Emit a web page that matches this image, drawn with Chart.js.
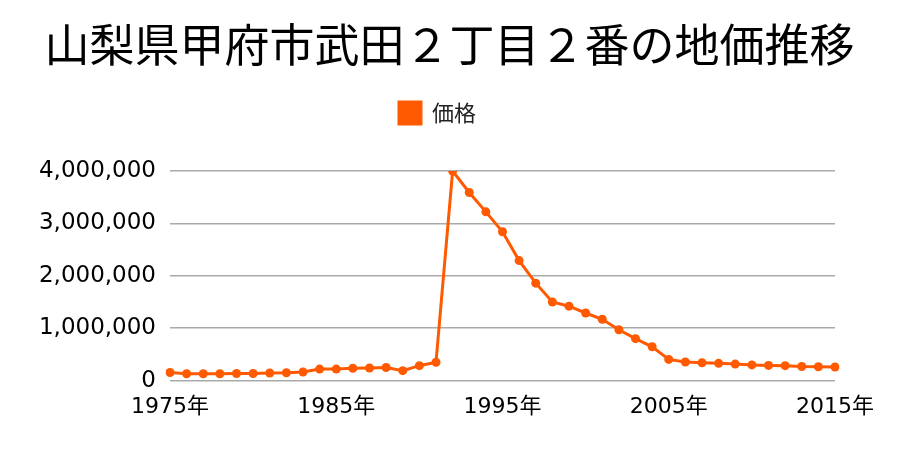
<!DOCTYPE html>
<html>
<head>
<meta charset="utf-8">
<script src="https://cdn.jsdelivr.net/npm/chart.js@4/dist/chart.umd.min.js"></script>
<style>
  html, body { margin: 0; padding: 0; background: #fff; }
  #wrap { width: 900px; height: 450px; }
</style>
</head>
<body>
<div id="wrap"><canvas id="landChart"></canvas></div>
<script>
// 年ラベルと価格データ
const years = [];
for (let y = 1975; y <= 2015; y++) years.push(y + '年');

const prices = [
    155000, 130000, 130000, 130000, 135000, 135000, 145000, 150000, 165000, 220000,
    220000, 235000, 240000, 250000, 190000, 285000, 350000, 4000000, 3590000, 3220000,
    2840000, 2290000, 1860000, 1500000, 1420000, 1290000, 1170000, 970000, 800000, 645000,
    405000, 355000, 340000, 330000, 315000, 300000, 290000, 285000, 270000, 265000,
    260000
];

const yTicks = [0, 1000000, 2000000, 3000000, 4000000];

const jpFont = '"Noto Sans CJK JP", "Noto Sans", sans-serif';
const numFont = '"DejaVu Sans", "Noto Sans CJK JP", sans-serif';

// 凡例の下に余白を追加し、少し左へずらす
const legendGap = {
    id: 'legendGap',
    beforeInit(chart) {
        const origFit = chart.legend.fit;
        chart.legend.fit = function () {
            origFit.bind(chart.legend)();
            this.height += 37;
        };
    },
    afterLayout(chart) {
        chart.legend.left -= 12;
        chart.legend.right -= 12;
    }
};

const ctx = document.getElementById('landChart').getContext('2d');

window.landChart = new Chart(ctx, {
    type: 'line',
    data: {
        labels: years,
        datasets: [{
            label: '価格',
            data: prices,
            borderColor: '#ff5a00',
            backgroundColor: '#ff5a00',
            borderWidth: 3,
            pointRadius: 4.5,
            pointBackgroundColor: '#ff5a00',
            pointBorderWidth: 0,
            tension: 0
        }]
    },
    plugins: [legendGap],
    options: {
        responsive: true,
        maintainAspectRatio: false,
        animation: false,
        layout: { padding: { left: 37, right: 38, top: 0, bottom: 25 } },
        plugins: {
            title: {
                display: true,
                text: '山梨県甲府市武田２丁目２番の地価推移',
                color: '#000',
                font: { family: jpFont, size: 45, weight: 'normal' },
                padding: { top: 18, bottom: 20 }
            },
            legend: {
                display: true,
                position: 'top',
                labels: {
                    color: '#222',
                    boxWidth: 22,
                    boxHeight: 22,
                    font: { family: jpFont, size: 22 },
                    padding: 10
                }
            },
            tooltip: { enabled: false }
        },
        scales: {
            x: {
                offset: false,
                grid: { display: false },
                border: { display: false },
                ticks: {
                    autoSkip: false,
                    maxRotation: 0,
                    color: '#000',
                    font: { family: numFont, size: 22 },
                    padding: 5,
                    callback: function (value, index) {
                        return index % 10 === 0 ? years[index] : '';
                    }
                }
            },
            y: {
                min: yTicks[0],
                max: yTicks[yTicks.length - 1],
                afterBuildTicks: function (axis) {
                    axis.ticks = yTicks.map(v => ({ value: v }));
                },
                afterFit: function (axis) {
                    axis.width = 133;
                },
                grid: { color: '#aaaaaa', lineWidth: 1.5, drawTicks: false },
                border: { display: false },
                ticks: {
                    color: '#000',
                    font: { family: numFont, size: 23 },
                    padding: 14,
                    callback: v => v.toLocaleString('en-US')
                }
            },
            // 右側の余白用（表示なし）
            yRight: {
                position: 'right',
                grid: { display: false },
                border: { display: false },
                ticks: { display: false },
                afterFit: function (axis) {
                    axis.width = 27;
                }
            }
        }
    }
});
</script>
</body>
</html>
